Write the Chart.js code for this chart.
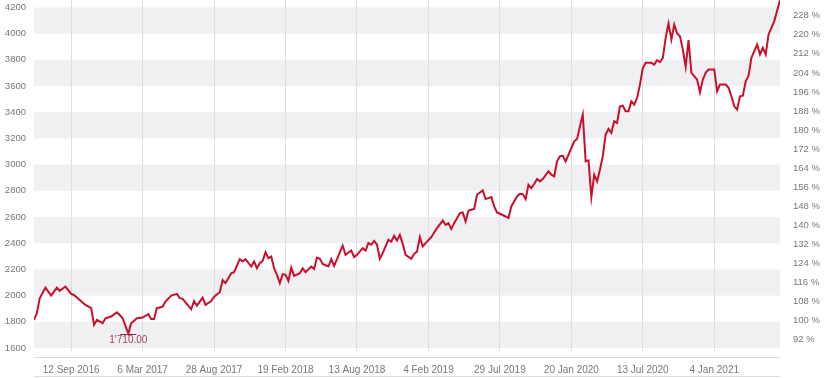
<!DOCTYPE html>
<html><head><meta charset="utf-8">
<script src="https://cdn.jsdelivr.net/npm/chart.js@4/dist/chart.umd.min.js"></script>
<style>html,body{margin:0;padding:0;background:#fff}#wrap{width:830px;height:378px;position:relative}</style>
</head><body><div id="wrap"><canvas id="c"></canvas></div>
<script>
// week index (0 = 13 Jun 2016, weekly)
const weeks = [0,1,2,4,6,8,9,11,13,14,16,18,20,21,22,24,25,27,29,30,31,33,34,36,38,40,41,42,43,45,46,48,50,51,
52,53,55,56,57,59,60,62,63,65,66,67,69,70,72,73,74,76,77,78,79,80,81,82,83,84,85,86,87,88,89,90,91,93,94,95,97,98,99,100,
101,103,104,105,108,109,111,112,113,115,116,117,118,119,120,121,122,124,125,126,127,128,129,130,132,133,134,135,136,137,139,140,141,143,144,145,146,147,149,
150,151,152,154,155,157,158,160,161,162,163,165,166,167,169,170,171,172,173,174,175,176,177,178,180,181,182,183,184,185,186,188,189,190,191,192,
193,194,195,196,197,198,199,200,201,202,203,204,205,206,207,208,209,210,211,212,213,214,216,217,218,219,220,221,222,223,224,225,226,227,228,229,230,231,232,233,234,235,236,
238,239,240,242,243,244,245,246,247,248,249,250,251,253,254,255,256,257,259,261];
const prices = [1814,1865,1980,2061,2000,2061,2036,2069,2013,2005,1967,1929,1904,1776,1814,1789,1827,1840,1873,1852,1827,1710,1789,1827,1832,1858,1822,1822,1904,1916,1954,2000,2013,1980,
1975,1949,1896,1959,1923,1985,1929,1959,1992,2026,2118,2095,2171,2179,2278,2260,2278,2222,2260,2209,2248,2265,2332,2286,2298,2209,2158,2095,2164,2158,2112,2214,2151,2171,2209,2179,2222,2204,2290,2281,
2242,2222,2278,2227,2382,2311,2344,2294,2311,2362,2344,2401,2388,2418,2388,2281,2324,2426,2413,2456,2421,2464,2395,2311,2281,2319,2336,2446,2375,2401,2446,2482,2515,2573,2540,2553,2508,2553,2630,
2635,2566,2650,2661,2770,2803,2737,2752,2681,2635,2625,2604,2592,2681,2757,2778,2775,2737,2846,2821,2852,2890,2872,2890,2948,2923,2910,3025,3063,3068,3025,3127,3178,3196,3292,3382,
3025,3033,2752,2923,2872,2961,3063,3229,3272,3242,3331,3318,3445,3450,3407,3407,3483,3458,3509,3611,3738,3777,3777,3764,3797,3782,3815,3968,4078,3955,4070,4001,3981,3879,3747,3950,3701,3675,3649,3552,3649,3701,3726,
3726,3560,3611,3611,3586,3522,3445,3420,3522,3527,3636,3680,3815,3917,3841,3892,3841,3994,4096,4255];
const tickWeeks = [13,38,63,88,113,138,163,188,213,238];
const tickLabels = ['12 Sep 2016','6 Mar 2017','28 Aug 2017','19 Feb 2018','13 Aug 2018','4 Feb 2019','29 Jul 2019','20 Jan 2020','13 Jul 2020','4 Jan 2021'];
const leftTicks = [1600,1800,2000,2200,2400,2600,2800,3000,3200,3400,3600,3800,4000,4200];
const rightTicks = [92,100,108,116,124,132,140,148,156,164,172,180,188,196,204,212,220,228];

const yMin = 1577, yMax = 4257;
const base = prices[0];
const FONT = '"Liberation Sans", Arial, sans-serif';

function swiss(v){
  const s = v.toFixed(2);
  const [i,d] = s.split('.');
  return i.replace(/\B(?=(\d{3})+(?!\d))/g, "'") + '.' + d;
}

const bands = {
  id:'bands',
  beforeDraw(chart){
    const {ctx, chartArea:a, scales:{y}} = chart;
    ctx.save();
    ctx.fillStyle = '#f0f0f2';
    for (let i = 0; i + 1 < leftTicks.length; i += 2) {
      const y1 = y.getPixelForValue(leftTicks[i]);
      const y2 = y.getPixelForValue(leftTicks[i+1]);
      ctx.fillRect(a.left, y2, a.right - a.left, y1 - y2);
    }
    ctx.restore();
  }
};
const extras = {
  id:'extras',
  afterDraw(chart){
    const {ctx, chartArea:a, scales:{x, y}} = chart;
    ctx.save();
    ctx.strokeStyle = '#dcdcdc';
    ctx.lineWidth = 1;
    ctx.beginPath();
    ctx.moveTo(a.left, a.bottom + 6.5); ctx.lineTo(a.right, a.bottom + 6.5);
    ctx.moveTo(a.left, chart.height - 1.5); ctx.lineTo(a.right, chart.height - 1.5);
    ctx.stroke();
    // min marker
    let mi = 0;
    prices.forEach((p,i)=>{ if (p < prices[mi]) mi = i; });
    const px = x.getPixelForValue(weeks[mi]);
    const py = y.getPixelForValue(prices[mi]);
    ctx.strokeStyle = '#8c2040';
    ctx.beginPath();
    ctx.moveTo(px - 8, Math.round(py) + 0.5); ctx.lineTo(px + 8, Math.round(py) + 0.5);
    ctx.stroke();
    ctx.fillStyle = '#a5405c';
    ctx.font = '10px ' + FONT;
    ctx.textAlign = 'center';
    ctx.textBaseline = 'top';
    ctx.fillText(swiss(prices[mi]), px, py + 2);
    ctx.restore();
  }
};

new Chart(document.getElementById('c'), {
  type:'line',
  data:{ datasets:[{
    data: weeks.map((w,i)=>({x:w, y:prices[i]})),
    borderColor:'#c8102e', borderWidth:2, pointRadius:0, tension:0, fill:false
  }]},
  options:{
    responsive:true, maintainAspectRatio:false, animation:false, devicePixelRatio:1,
    layout:{padding:0},
    plugins:{legend:{display:false}, tooltip:{enabled:false}},
    scales:{
      x:{
        type:'linear', min:0, max:261,
        afterBuildTicks(s){ s.ticks = tickWeeks.map(v=>({value:v})); },
        afterFit(s){ s.height = 27; s.paddingLeft = 0; s.paddingRight = 0; },
        grid:{color:'#dddddd', drawTicks:false, lineWidth:1},
        border:{display:false},
        ticks:{autoSkip:false, maxRotation:0, padding:13, color:'#777', font:{family:FONT, size:10},
          callback:(v)=> tickLabels[tickWeeks.indexOf(v)] }
      },
      y:{
        type:'linear', position:'left', min:yMin, max:yMax,
        afterBuildTicks(s){ s.ticks = leftTicks.map(v=>({value:v})); },
        afterFit(s){ s.width = 34; s.paddingTop = 0; s.paddingBottom = 0; },
        grid:{display:false, drawTicks:false},
        border:{display:false},
        ticks:{padding:8, color:'#777', font:{family:FONT, size:9.5}, callback:(v)=> String(v)}
      },
      y2:{
        type:'linear', position:'right', min:yMin/base*100, max:yMax/base*100,
        afterBuildTicks(s){ s.ticks = rightTicks.map(v=>({value:v})); },
        afterFit(s){ s.width = 50; s.paddingTop = 0; s.paddingBottom = 0; },
        grid:{display:false, drawTicks:false},
        border:{display:false},
        ticks:{padding:13, color:'#777', font:{family:FONT, size:9.5}, callback:(v)=> v + ' %'}
      }
    }
  },
  plugins:[bands, extras]
});
</script>
</body></html>
